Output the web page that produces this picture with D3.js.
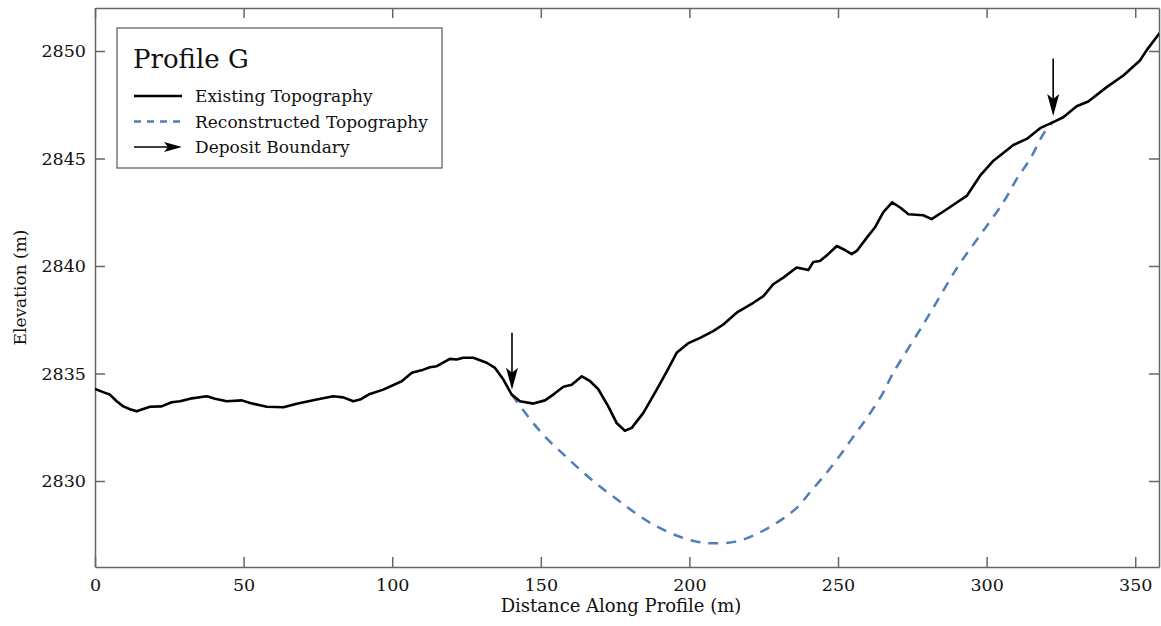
<!DOCTYPE html>
<html>
<head>
<meta charset="utf-8">
<script src="https://cdn.jsdelivr.net/npm/d3@7"></script>
<style>
  body { margin: 0; background: #fff; }
  svg { font-family: "DejaVu Serif", serif; }
  .axis path, .axis line { stroke: #666; stroke-width: 1.5; }
  .axis text { fill: #111; font-size: 17.5px; font-family: "DejaVu Serif", serif; }
</style>
</head>
<body>
<svg id="chart"></svg>
<script>
// existing topography (distance m, elevation m)
const existDist = [0, 3.4, 5.0, 7.3, 9.5, 11.8, 14.0, 18.5, 22.4, 25.8, 28.6, 32.0, 37.6, 40.4, 44.3, 49.4,
  52.2, 57.8, 63.4, 67.9, 74.6, 80.2, 83.5, 86.9, 89.2, 92.5, 97.0, 103.2, 106.6, 110.5, 112.7, 115.0,
  119.4, 121.7, 123.9, 127.3, 131.8, 134.6, 137.4, 140.2, 143.0, 147.5, 151.4, 154.2, 157.6, 160.4,
  163.8, 166.6, 169.3, 172.7, 175.5, 178.3, 180.6, 184.5, 189.0, 192.4, 195.7, 199.5, 203.6, 208.0,
  211.4, 215.9, 221.5, 224.9, 228.2, 231.6, 236.1, 240.0, 241.7, 243.9, 246.7, 249.6, 251.8, 254.6,
  256.3, 259.7, 262.4, 265.2, 268.2, 270.9, 273.7, 278.7, 281.5, 286.6, 293.3, 297.8, 302.3, 309.0,
  313.5, 318.0, 322.4, 325.8, 330.3, 334.2, 340.4, 346.0, 351.6, 353.8, 358.3];
const existElev = [2834.28, 2834.10, 2834.02, 2833.71, 2833.47, 2833.34, 2833.24, 2833.45, 2833.47, 2833.66,
  2833.71, 2833.83, 2833.94, 2833.83, 2833.71, 2833.75, 2833.63, 2833.45, 2833.43, 2833.59, 2833.79,
  2833.94, 2833.89, 2833.71, 2833.79, 2834.05, 2834.25, 2834.64, 2835.03, 2835.18, 2835.29, 2835.34,
  2835.68, 2835.65, 2835.73, 2835.73, 2835.50, 2835.26, 2834.72, 2834.02, 2833.71, 2833.60, 2833.75,
  2834.02, 2834.38, 2834.48, 2834.87, 2834.64, 2834.28, 2833.47, 2832.70, 2832.34, 2832.47, 2833.17,
  2834.25, 2835.10, 2835.96, 2836.40, 2836.66, 2836.97, 2837.28, 2837.83, 2838.29, 2838.60, 2839.15,
  2839.46, 2839.93, 2839.81, 2840.19, 2840.23, 2840.55, 2840.93, 2840.78, 2840.55, 2840.70, 2841.32,
  2841.79, 2842.49, 2842.96, 2842.72, 2842.41, 2842.36, 2842.18, 2842.64, 2843.26, 2844.20, 2844.90,
  2845.63, 2845.91, 2846.41, 2846.69, 2846.92, 2847.43, 2847.65, 2848.32, 2848.86, 2849.56, 2850.03,
  2850.85];

// reconstructed topography under the deposit
const reconDist = [140.2, 147.0, 152.4, 157.8, 163.9, 169.9, 175.9, 181.9, 188.0, 195.2, 202.4, 208.4,
  215.6, 222.7, 230.0, 236.0, 240.8, 245.6, 250.4, 255.2, 260.1, 264.8, 268.6, 279.3, 290.4, 297.8,
  305.6, 310.1, 314.6, 319.1, 322.4];
const reconElev = [2834.02, 2832.77, 2831.92, 2831.22, 2830.44, 2829.74, 2829.12, 2828.50, 2827.96,
  2827.49, 2827.18, 2827.10, 2827.18, 2827.54, 2828.11, 2828.74, 2829.51, 2830.29, 2831.14, 2832.07,
  2833.01, 2834.02, 2835.03, 2837.42, 2839.99, 2841.43, 2842.96, 2844.04, 2844.97, 2846.14, 2846.72];

// deposit boundary arrows
const arrowDist = [140.3, 322.4];
const arrowTop = [2836.9, 2849.65];
const arrowTip = [2834.25, 2846.98];

const xTicks = [0, 50, 100, 150, 200, 250, 300, 350];
const yTicks = [2830, 2835, 2840, 2845, 2850];

const legendLabels = ["Existing Topography", "Reconstructed Topography", "Deposit Boundary"];

const W = 1161, H = 626;
const margin = {top: 8, right: 2, bottom: 59, left: 95};
const width = W - margin.left - margin.right;
const height = H - margin.top - margin.bottom;

const svg = d3.select('#chart').attr('width', W).attr('height', H);
const g = svg.append('g').attr('transform', `translate(${margin.left},${margin.top})`);

const x = d3.scaleLinear().domain([0, 358]).range([0, width]);
const y = d3.scaleLinear().domain([2826, 2852]).range([height, 0]);

// axes, ticks pointing inward, box all round
g.append('g').attr('class', 'axis').attr('transform', `translate(0,${height})`)
  .call(d3.axisBottom(x).tickValues(xTicks).tickSize(-10).tickSizeOuter(0).tickPadding(12));
g.append('g').attr('class', 'axis')
  .call(d3.axisTop(x).tickValues(xTicks).tickSize(-10).tickSizeOuter(0).tickFormat(''));
g.append('g').attr('class', 'axis')
  .call(d3.axisLeft(y).tickValues(yTicks).tickFormat(d3.format('d')).tickSize(-10).tickSizeOuter(0).tickPadding(9));
g.append('g').attr('class', 'axis').attr('transform', `translate(${width},0)`)
  .call(d3.axisRight(y).tickValues(yTicks).tickSize(-10).tickSizeOuter(0).tickFormat(''));

g.append('text')
  .attr('x', width / 2 - 6).attr('y', height + 45)
  .attr('text-anchor', 'middle').attr('font-size', '18px').attr('fill', '#111')
  .text('Distance Along Profile (m)');
g.append('text')
  .attr('transform', 'rotate(-90)')
  .attr('x', -height / 2).attr('y', -margin.left + 26)
  .attr('text-anchor', 'middle').attr('font-size', '17px').attr('fill', '#111')
  .text('Elevation (m)');

g.append('clipPath').attr('id', 'clip').append('rect').attr('width', width).attr('height', height);
const marks = g.append('g').attr('clip-path', 'url(#clip)');

const line = d3.line().x(d => x(d[0])).y(d => y(d[1]));

marks.append('path')
  .datum(d3.zip(reconDist, reconElev))
  .attr('fill', 'none').attr('stroke', '#4f7fb8').attr('stroke-width', 2.5)
  .attr('stroke-dasharray', '10,8')
  .attr('d', line.curve(d3.curveCatmullRom));

marks.append('path')
  .datum(d3.zip(existDist, existElev))
  .attr('fill', 'none').attr('stroke', '#000').attr('stroke-width', 2.6)
  .attr('stroke-linejoin', 'round')
  .attr('d', line.curve(d3.curveLinear));

// arrowhead shape, tip at origin pointing down
const headDown = 'M0,0 L-6,-22 L0,-17 L6,-22 Z';
arrowDist.forEach((d, i) => {
  const ax = x(d);
  g.append('line')
    .attr('x1', ax).attr('x2', ax)
    .attr('y1', y(arrowTop[i])).attr('y2', y(arrowTip[i]) - 10)
    .attr('stroke', '#000').attr('stroke-width', 1.6);
  g.append('path')
    .attr('transform', `translate(${ax},${y(arrowTip[i])})`)
    .attr('d', headDown).attr('fill', '#000');
});

// legend
const leg = svg.append('g').attr('transform', 'translate(117,28)');
leg.append('rect').attr('width', 325).attr('height', 140)
  .attr('fill', '#fff').attr('stroke', '#666').attr('stroke-width', 1.3);
leg.append('text').attr('x', 16).attr('y', 40)
  .attr('font-size', '26px').attr('fill', '#111').text('Profile G');

legendLabels.forEach((lab, i) => {
  const ly = 68 + i * 25.5;
  const row = leg.append('g').attr('transform', `translate(0,${ly})`);
  if (i === 0) {
    row.append('line').attr('x1', 17).attr('x2', 65).attr('stroke', '#000').attr('stroke-width', 2.6);
  } else if (i === 1) {
    row.append('line').attr('x1', 17).attr('x2', 65).attr('stroke', '#4f7fb8')
      .attr('stroke-width', 2.5).attr('stroke-dasharray', '7,6');
  } else {
    row.append('line').attr('x1', 17).attr('x2', 56).attr('stroke', '#000').attr('stroke-width', 1.6);
    row.append('path').attr('transform', 'translate(65,0) rotate(-90)')
      .attr('d', 'M0,0 L-5,-18 L0,-14 L5,-18 Z').attr('fill', '#000');
  }
  row.append('text').attr('x', 78).attr('y', 6)
    .attr('font-size', '17px').attr('fill', '#111').text(lab);
});
</script>
</body>
</html>
